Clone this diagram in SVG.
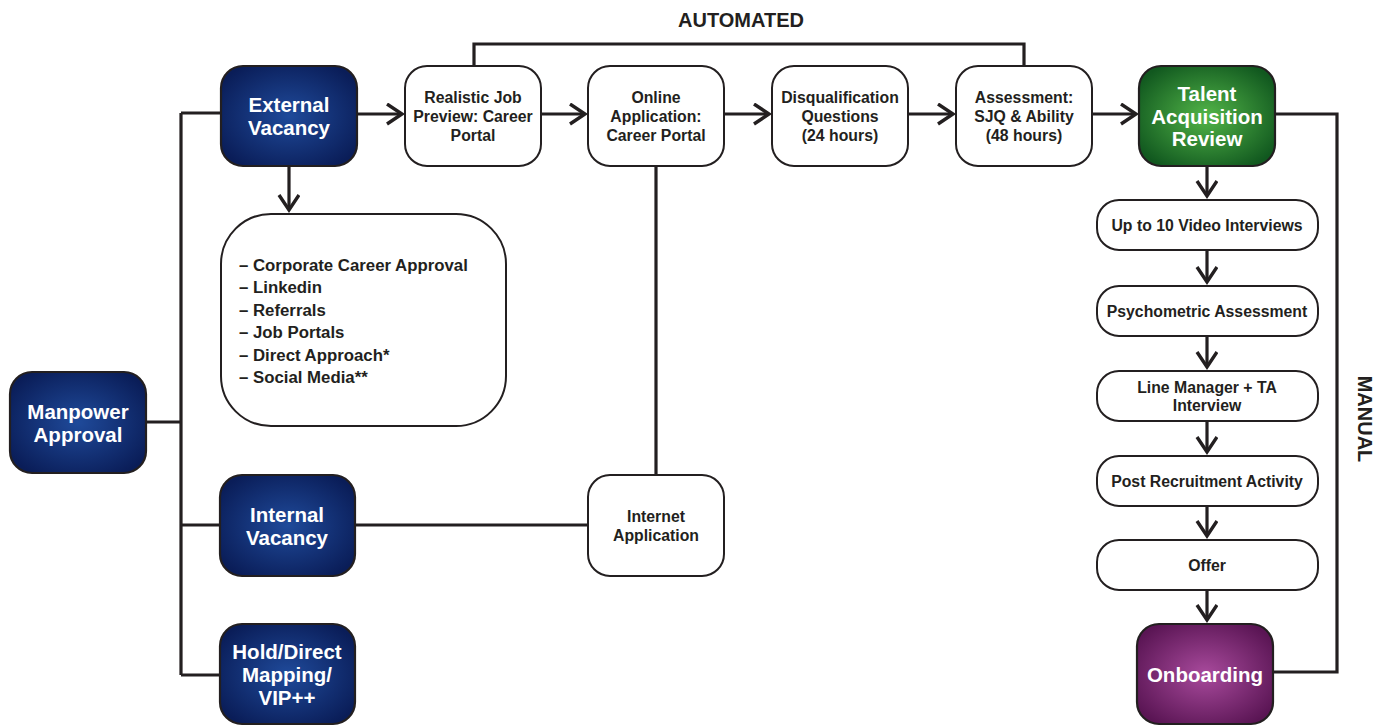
<svg xmlns="http://www.w3.org/2000/svg" width="1392" height="726" viewBox="0 0 1392 726">
<defs>
<radialGradient id="blue" cx="50%" cy="50%" r="60%">
<stop offset="0" stop-color="#1f4a9a"/>
<stop offset="1" stop-color="#0a1d58"/>
</radialGradient>
<radialGradient id="green" cx="50%" cy="50%" r="60%">
<stop offset="0" stop-color="#52b548"/>
<stop offset="1" stop-color="#11581f"/>
</radialGradient>
<radialGradient id="purple" cx="50%" cy="50%" r="60%">
<stop offset="0" stop-color="#a84a9c"/>
<stop offset="1" stop-color="#5a1554"/>
</radialGradient>
<marker id="arr" markerUnits="userSpaceOnUse" markerWidth="20" markerHeight="24" refX="16" refY="11" orient="auto" viewBox="0 0 20 24">
<path d="M1,1 L16,11 L1,21" fill="none" stroke="#231f20" stroke-width="3.4"/>
</marker>
</defs>
<style>
.dark{stroke:#231f20;stroke-width:2.2}
.white{fill:#fff;stroke:#231f20;stroke-width:2}
.wt{font-family:"Liberation Sans",Arial,sans-serif;font-weight:bold;font-size:20.5px;fill:#fff;text-anchor:middle}
.bt{font-family:"Liberation Sans",Arial,sans-serif;font-weight:bold;font-size:15.8px;fill:#231f20;text-anchor:middle}
.lt{font-family:"Liberation Sans",Arial,sans-serif;font-weight:bold;font-size:16.8px;fill:#231f20}
.lab{font-family:"Liberation Sans",Arial,sans-serif;font-weight:bold;font-size:20px;fill:#231f20;text-anchor:middle}
.ln{fill:none;stroke:#231f20;stroke-width:3.2}
</style>
<rect width="1392" height="726" fill="#fff"/>
<g id="connectors">
<path class="ln" d="M146,422 H181 M181,113 V675 M181,113 H221 M181,525 H220 M181,675 H220"/>
<path class="ln" d="M357,114 H402" marker-end="url(#arr)"/>
<path class="ln" d="M289,166 V210" marker-end="url(#arr)"/>
<path class="ln" d="M541,114 H585" marker-end="url(#arr)"/>
<path class="ln" d="M724,114 H769" marker-end="url(#arr)"/>
<path class="ln" d="M908,114 H953" marker-end="url(#arr)"/>
<path class="ln" d="M1092,114 H1136" marker-end="url(#arr)"/>
<path class="ln" d="M474,66 V44 H1024 V66"/>
<path class="ln" d="M656,166 V475"/>
<path class="ln" d="M355,525 H588"/>
<path class="ln" d="M1275,114 H1337 V672 H1273"/>
<path class="ln" d="M1207,166 V196" marker-end="url(#arr)"/>
<path class="ln" d="M1207,250 V282" marker-end="url(#arr)"/>
<path class="ln" d="M1207,336 V367" marker-end="url(#arr)"/>
<path class="ln" d="M1207,421 V452" marker-end="url(#arr)"/>
<path class="ln" d="M1207,506 V536" marker-end="url(#arr)"/>
<path class="ln" d="M1207,590 V620" marker-end="url(#arr)"/>
</g>
<text class="lab" x="741" y="27">AUTOMATED</text>
<text class="lab" transform="translate(1358,419) rotate(90)">MANUAL</text>
<g id="manpower">
<rect class="dark" x="10" y="372" width="136" height="101" rx="22" fill="url(#blue)"/>
<text class="wt" x="78" y="419">Manpower</text>
<text class="wt" x="78" y="442">Approval</text>
</g>
<g id="external">
<rect class="dark" x="221" y="66" width="136" height="100" rx="22" fill="url(#blue)"/>
<text class="wt" x="289" y="112">External</text>
<text class="wt" x="289" y="135">Vacancy</text>
</g>
<g id="internal">
<rect class="dark" x="220" y="475" width="135" height="101" rx="22" fill="url(#blue)"/>
<text class="wt" x="287" y="522">Internal</text>
<text class="wt" x="287" y="545">Vacancy</text>
</g>
<g id="hold">
<rect class="dark" x="220" y="624" width="135" height="100" rx="22" fill="url(#blue)"/>
<text class="wt" x="287" y="659">Hold/Direct</text>
<text class="wt" x="287" y="682">Mapping/</text>
<text class="wt" x="287" y="705">VIP++</text>
</g>
<g id="sources">
<rect class="white" x="221" y="214" width="285" height="212" rx="50"/>
<text class="lt" x="239" y="271">– Corporate Career Approval</text>
<text class="lt" x="239" y="293">– Linkedin</text>
<text class="lt" x="239" y="316">– Referrals</text>
<text class="lt" x="239" y="338">– Job Portals</text>
<text class="lt" x="239" y="361">– Direct Approach*</text>
<text class="lt" x="239" y="383">– Social Media**</text>
</g>
<g id="realistic">
<rect class="white" x="405" y="66" width="136" height="100" rx="22"/>
<text class="bt" x="473" y="103">Realistic Job</text>
<text class="bt" x="473" y="122">Preview: Career</text>
<text class="bt" x="473" y="141">Portal</text>
</g>
<g id="online">
<rect class="white" x="588" y="66" width="136" height="100" rx="22"/>
<text class="bt" x="656" y="103">Online</text>
<text class="bt" x="656" y="122">Application:</text>
<text class="bt" x="656" y="141">Career Portal</text>
</g>
<g id="disq">
<rect class="white" x="772" y="66" width="136" height="100" rx="22"/>
<text class="bt" x="840" y="103">Disqualification</text>
<text class="bt" x="840" y="122">Questions</text>
<text class="bt" x="840" y="141">(24 hours)</text>
</g>
<g id="assessment">
<rect class="white" x="956" y="66" width="136" height="100" rx="22"/>
<text class="bt" x="1024" y="103">Assessment:</text>
<text class="bt" x="1024" y="122">SJQ &amp; Ability</text>
<text class="bt" x="1024" y="141">(48 hours)</text>
</g>
<g id="talent">
<rect class="dark" x="1139" y="66" width="136" height="100" rx="22" fill="url(#green)"/>
<text class="wt" x="1207" y="101">Talent</text>
<text class="wt" x="1207" y="124">Acquisition</text>
<text class="wt" x="1207" y="146">Review</text>
</g>
<g id="internet">
<rect class="white" x="588" y="475" width="136" height="101" rx="22"/>
<text class="bt" x="656" y="522">Internet</text>
<text class="bt" x="656" y="541">Application</text>
</g>
<g id="video">
<rect class="white" x="1097" y="200" width="221" height="50" rx="22"/>
<text class="bt" x="1207" y="231">Up to 10 Video Interviews</text>
</g>
<g id="psycho">
<rect class="white" x="1097" y="286" width="221" height="50" rx="22"/>
<text class="bt" x="1207" y="317">Psychometric Assessment</text>
</g>
<g id="linemgr">
<rect class="white" x="1097" y="371" width="221" height="50" rx="22"/>
<text class="bt" x="1207" y="393">Line Manager + TA</text>
<text class="bt" x="1207" y="411">Interview</text>
</g>
<g id="post">
<rect class="white" x="1097" y="456" width="221" height="50" rx="22"/>
<text class="bt" x="1207" y="487">Post Recruitment Activity</text>
</g>
<g id="offer">
<rect class="white" x="1097" y="540" width="221" height="50" rx="22"/>
<text class="bt" x="1207" y="571">Offer</text>
</g>
<g id="onboarding">
<rect class="dark" x="1137" y="624" width="136" height="100" rx="22" fill="url(#purple)"/>
<text class="wt" x="1205" y="682">Onboarding</text>
</g>
</svg>
